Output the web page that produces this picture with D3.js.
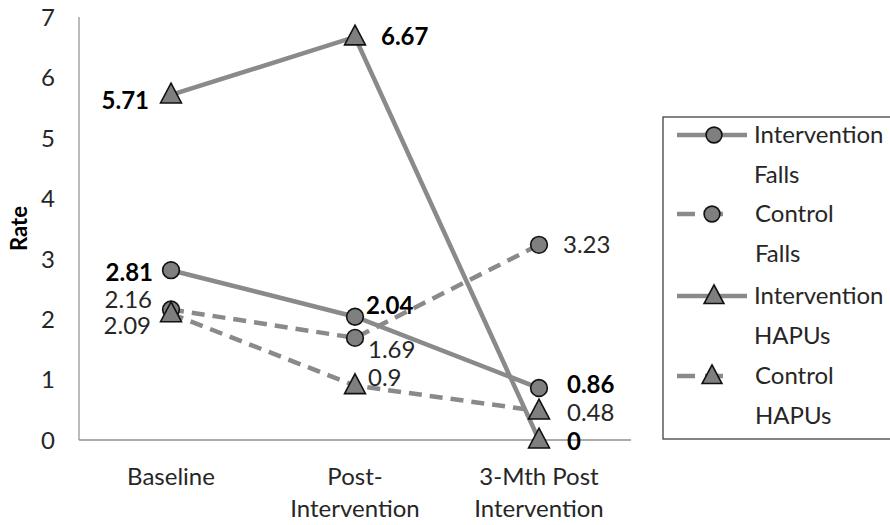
<!DOCTYPE html>
<html>
<head>
<meta charset="utf-8">
<script src="https://cdn.jsdelivr.net/npm/d3@7"></script>
<style>
  html, body { margin: 0; padding: 0; background: #fff; }
  svg { display: block; font-family: Lato, "Open Sans", sans-serif; }
</style>
</head>
<body>
<svg id="chart" width="890" height="525"></svg>
<script>
// Categories (two-line labels on the x axis)
const categories = ["Baseline", "Post-Intervention", "3-Mth Post Intervention"];
const categoryLines = [["Baseline"], ["Post-", "Intervention"], ["3-Mth Post", "Intervention"]];

// Series values
const seriesNames = ["Intervention Falls", "Control Falls", "Intervention HAPUs", "Control HAPUs"];
const interventionFalls = [2.81, 2.04, 0.86];
const controlFalls = [2.16, 1.69, 3.23];
const interventionHAPUs = [5.71, 6.67, 0];
const controlHAPUs = [2.09, 0.9, 0.48];

// Y axis ticks
const yTicks = [0, 1, 2, 3, 4, 5, 6, 7];

const series = [
  { name: seriesNames[0], values: interventionFalls, dashed: false, marker: "circle", bold: true },
  { name: seriesNames[1], values: controlFalls, dashed: true, marker: "circle", bold: false },
  { name: seriesNames[2], values: interventionHAPUs, dashed: false, marker: "triangle", bold: true },
  { name: seriesNames[3], values: controlHAPUs, dashed: true, marker: "triangle", bold: false }
];

// Label placement per series and category: [dx, dy, anchor]
const labelPlace = [
  [[-18, 2, "end"], [11, -11, "start"], [28, -3, "start"]],
  [[-19, -10, "end"], [13, 12, "start"], [24, 0, "start"]],
  [[-22, 6, "end"], [26, 0, "start"], [28, 2, "start"]],
  [[-20, 12, "end"], [13, -8, "start"], [28, 2, "start"]]
];

const svg = d3.select("#chart");
const plot = { left: 79, right: 631, top: 17, bottom: 440 };
const fontSize = 24;

const x = d3.scaleBand().domain(categories).range([plot.left, plot.right]);
const y = d3.scaleLinear().domain([0, 7]).range([plot.bottom, plot.top]);
const cx = c => x(c) + x.bandwidth() / 2;

const lineColor = "#8a8a8a";
const markerFill = "#7f7f7f";
const dash = "13,8";
const textColor = "#262626";

// Axes
svg.append("line")
  .attr("x1", plot.left).attr("x2", plot.left)
  .attr("y1", plot.top).attr("y2", plot.bottom)
  .attr("stroke", "#a6a6a6").attr("stroke-width", 1.5);
svg.append("line")
  .attr("x1", plot.left).attr("x2", plot.right)
  .attr("y1", plot.bottom).attr("y2", plot.bottom)
  .attr("stroke", "#8f8f8f").attr("stroke-width", 1.5);

const yAxis = svg.append("g")
  .attr("transform", `translate(${plot.left},0)`)
  .call(d3.axisLeft(y).tickValues(yTicks).tickSize(0).tickPadding(24).tickFormat(d3.format("d")));
yAxis.select(".domain").remove();
yAxis.selectAll("text")
  .attr("font-size", fontSize).attr("fill", textColor).attr("font-family", "Lato, 'Open Sans', sans-serif")
  .attr("dy", "0.35em");

const xAxis = svg.append("g")
  .attr("transform", `translate(0,${plot.bottom})`)
  .call(d3.axisBottom(x).tickSize(0).tickFormat(""));
xAxis.select(".domain").remove();
xAxis.selectAll(".tick").each(function(d, i) {
  const t = d3.select(this).append("text")
    .attr("fill", textColor).attr("font-size", fontSize)
    .attr("font-family", "Lato, 'Open Sans', sans-serif")
    .attr("text-anchor", "middle");
  categoryLines[i].forEach((ln, j) => {
    t.append("tspan").attr("x", 0).attr("y", 45 + j * 32).text(ln);
  });
});

// Y axis title
svg.append("text")
  .attr("transform", `translate(27,${(plot.top + plot.bottom) / 2}) rotate(-90)`)
  .attr("text-anchor", "middle")
  .attr("font-size", 22).attr("font-weight", "bold").attr("fill", "#000")
  .text("Rate");

const triPath = s => `M0,${-s * 0.62} L${s * 0.55},${s * 0.42} L${-s * 0.55},${s * 0.42} Z`;

function drawMarker(g, type, px, py, size) {
  if (type === "circle") {
    g.append("circle").attr("cx", px).attr("cy", py).attr("r", size * 0.44)
      .attr("fill", markerFill).attr("stroke", "#111").attr("stroke-width", 1.6);
  } else {
    g.append("path").attr("d", triPath(size))
      .attr("transform", `translate(${px},${py})`)
      .attr("fill", markerFill).attr("stroke", "#111").attr("stroke-width", 1.6)
      .attr("stroke-linejoin", "miter");
  }
}

const line = d3.line().x((d, i) => cx(categories[i])).y(d => y(d));

series.forEach(s => {
  const g = svg.append("g");
  g.append("path").datum(s.values)
    .attr("d", line)
    .attr("fill", "none").attr("stroke", lineColor).attr("stroke-width", 4.5)
    .attr("stroke-dasharray", s.dashed ? dash : null);
  s.values.forEach((v, i) => drawMarker(g, s.marker, cx(categories[i]), y(v), 19));
});

// Data labels
series.forEach((s, si) => {
  s.values.forEach((v, i) => {
    const p = labelPlace[si][i];
    svg.append("text")
      .attr("x", cx(categories[i]) + p[0])
      .attr("y", y(v) + p[1])
      .attr("dy", "0.35em")
      .attr("text-anchor", p[2])
      .attr("font-size", fontSize)
      .attr("font-weight", s.bold ? "bold" : "normal")
      .attr("fill", s.bold ? "#000" : textColor)
      .text(String(v));
  });
});

// Legend
const legend = svg.append("g");
legend.append("rect")
  .attr("x", 663).attr("y", 117).attr("width", 260).attr("height", 322)
  .attr("fill", "#fff").attr("stroke", "#333").attr("stroke-width", 1.2);
const legendRows = [135, 214, 296, 376];
series.forEach((s, i) => {
  const ly = legendRows[i];
  legend.append("line")
    .attr("x1", 677).attr("x2", s.dashed ? 733 : 747)
    .attr("y1", ly).attr("y2", ly)
    .attr("stroke", lineColor).attr("stroke-width", 4.5)
    .attr("stroke-dasharray", s.dashed ? "18,10" : null);
  drawMarker(legend, s.marker, s.dashed ? 712 : 714, ly, 18);
  const words = s.name.split(" ");
  const t = legend.append("text")
    .attr("font-size", fontSize).attr("fill", textColor);
  words.forEach((w, j) => {
    t.append("tspan").attr("x", s.dashed ? 755 : 754).attr("y", ly + j * 40).attr("dy", "0.35em").text(w);
  });
});
</script>
</body>
</html>
